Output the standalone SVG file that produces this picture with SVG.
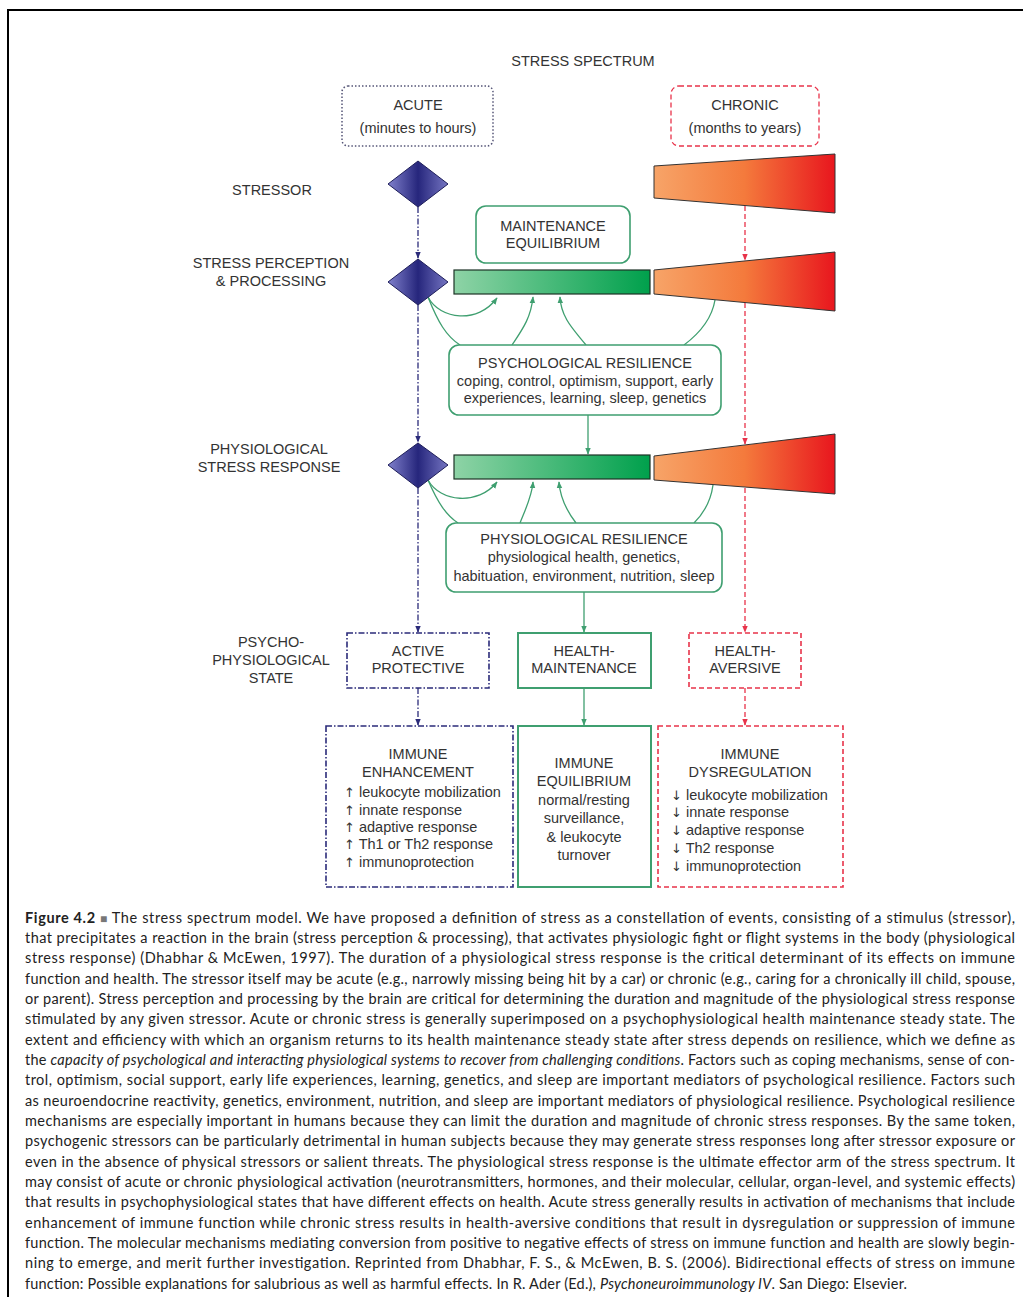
<svg xmlns="http://www.w3.org/2000/svg" width="1023" height="1297" viewBox="0 0 1023 1297">
<defs>
<linearGradient id="gBar" x1="0" y1="0" x2="1" y2="0"><stop offset="0" stop-color="#8ed3a6"/><stop offset="1" stop-color="#00a04c"/></linearGradient>
<linearGradient id="gTrap" x1="0" y1="0" x2="1" y2="0"><stop offset="0" stop-color="#f7a468"/><stop offset="0.5" stop-color="#f47a3c"/><stop offset="1" stop-color="#e8161e"/></linearGradient>
<linearGradient id="gDia" x1="0" y1="0" x2="1" y2="0"><stop offset="0" stop-color="#8080cc"/><stop offset="0.5" stop-color="#26267c"/><stop offset="1" stop-color="#7575c2"/></linearGradient>
<marker id="aN" viewBox="0 0 10 10" refX="9" refY="5" markerWidth="7" markerHeight="7" markerUnits="userSpaceOnUse" orient="auto"><path d="M0,1 L10,5 L0,9 Z" fill="#2b2b7a"/></marker>
<marker id="aR" viewBox="0 0 10 10" refX="9" refY="5" markerWidth="7" markerHeight="7" markerUnits="userSpaceOnUse" orient="auto"><path d="M0,1 L10,5 L0,9 Z" fill="#e8334a"/></marker>
<marker id="aG" viewBox="0 0 10 10" refX="9" refY="5" markerWidth="7" markerHeight="7" markerUnits="userSpaceOnUse" orient="auto"><path d="M0,1 L10,5 L0,9 Z" fill="#3f9f70"/></marker>
</defs>
<style>
.t{font-family:"Liberation Sans",Arial,sans-serif;font-size:14.5px;fill:#333;text-anchor:middle}
.l{text-anchor:start}
.ar{font-family:"DejaVu Sans",sans-serif;font-size:13px}
.cap{font-family:Lato,"Open Sans","Liberation Sans",sans-serif;font-size:14.5px;fill:#222}
.navy{fill:none;stroke:#2b2b7a;stroke-width:1.3;stroke-dasharray:6 2 1.5 2}
.red{fill:none;stroke:#e8334a;stroke-width:1.3;stroke-dasharray:5 3}
.grn{fill:none;stroke:#3f9f70;stroke-width:1.3}
.gbox{fill:#fff;stroke:#3f9f70;stroke-width:1.6}
.bar{fill:url(#gBar);stroke:#1d3326;stroke-width:1.2}
.trap{fill:url(#gTrap);stroke:#333;stroke-width:1}
.dia{fill:url(#gDia);stroke:#1e1e5a;stroke-width:1}
</style>
<rect width="1023" height="1297" fill="#fff"/>
<path d="M8,1297 V10 H1023" fill="none" stroke="#000" stroke-width="2"/>

<g id="connectors">
<path class="navy" d="M418,207 V258" marker-end="url(#aN)"/>
<path class="navy" d="M418,305 V442" marker-end="url(#aN)"/>
<path class="navy" d="M418,488 V632" marker-end="url(#aN)"/>
<path class="navy" d="M418,688 V725" marker-end="url(#aN)"/>
<path class="red" d="M745,206 V260" marker-end="url(#aR)"/>
<path class="red" d="M745,303 V444" marker-end="url(#aR)"/>
<path class="red" d="M745,488 V632" marker-end="url(#aR)"/>
<path class="red" d="M745,688 V725" marker-end="url(#aR)"/>
<path class="grn" d="M588,415 V454" marker-end="url(#aG)"/>
<path class="grn" d="M584,592 V632" marker-end="url(#aG)"/>
<path class="grn" d="M584,688 V725" marker-end="url(#aG)"/>
<path class="grn" d="M428,297 C438,322 446,336 460,345"/>
<path class="grn" d="M428,297 C440,320 478,324 497,298" marker-end="url(#aG)"/>
<path class="grn" d="M512,345 C522,330 531,318 533,297" marker-end="url(#aG)"/>
<path class="grn" d="M586,345 C574,330 561,318 560,297" marker-end="url(#aG)"/>
<path class="grn" d="M684,345 C700,333 712,318 715,300"/>
<path class="grn" d="M428,480 C438,503 446,515 458,523"/>
<path class="grn" d="M428,480 C440,502 478,506 497,482" marker-end="url(#aG)"/>
<path class="grn" d="M520,523 C526,508 532,496 533,482" marker-end="url(#aG)"/>
<path class="grn" d="M576,523 C566,510 560,496 559,482" marker-end="url(#aG)"/>
<path class="grn" d="M694,523 C704,513 711,500 713,485"/>
</g>

<text class="t" x="583" y="66">STRESS SPECTRUM</text>

<g id="acute">
<rect x="342" y="86" width="151" height="60" rx="6" fill="#fff" stroke="#555577" stroke-width="1.5" stroke-dasharray="1.5 2"/>
<text class="t" x="418" y="110">ACUTE</text>
<text class="t" x="418" y="133">(minutes to hours)</text>
</g>
<g id="chronic">
<rect x="671" y="86" width="148" height="60" rx="8" fill="#fff" stroke="#e8334a" stroke-width="1.3" stroke-dasharray="5 3"/>
<text class="t" x="745" y="110">CHRONIC</text>
<text class="t" x="745" y="133">(months to years)</text>
</g>

<g id="label-stressor"><text class="t" x="272" y="195">STRESSOR</text></g>
<g id="label-perception"><text class="t" x="271" y="268">STRESS PERCEPTION</text><text class="t" x="271" y="286">&amp; PROCESSING</text></g>
<g id="label-response"><text class="t" x="269" y="454">PHYSIOLOGICAL</text><text class="t" x="269" y="472">STRESS RESPONSE</text></g>
<g id="label-state"><text class="t" x="271" y="647">PSYCHO-</text><text class="t" x="271" y="665">PHYSIOLOGICAL</text><text class="t" x="271" y="683">STATE</text></g>

<g id="diamond-stressor"><polygon class="dia" points="388,184 418,161 448,184 418,207"/></g>
<g id="diamond-perception"><polygon class="dia" points="388,282 418,259 448,282 418,305"/></g>
<g id="diamond-response"><polygon class="dia" points="388,465 418,443 448,465 418,488"/></g>

<g id="trap-stressor"><path class="trap" d="M654,166 L835,154 L835,213 L654,198 Z"/></g>
<g id="trap-perception"><path class="trap" d="M654,270 L835,252 L835,311 L654,294 Z"/></g>
<g id="trap-response"><path class="trap" d="M654,456 L835,434 L835,494 L654,480 Z"/></g>

<g id="bar-perception"><rect class="bar" x="454" y="270" width="196" height="24"/></g>
<g id="bar-response"><rect class="bar" x="454" y="455" width="196" height="24"/></g>

<g id="maintenance-equilibrium">
<rect class="gbox" x="476" y="206" width="154" height="57" rx="10"/>
<text class="t" x="553" y="231">MAINTENANCE</text>
<text class="t" x="553" y="248">EQUILIBRIUM</text>
</g>

<g id="psych-resilience">
<rect class="gbox" x="449" y="345" width="272" height="70" rx="10"/>
<text class="t" x="585" y="368">PSYCHOLOGICAL RESILIENCE</text>
<text class="t" x="585" y="386">coping, control, optimism, support, early</text>
<text class="t" x="585" y="403">experiences, learning, sleep, genetics</text>
</g>

<g id="physio-resilience">
<rect class="gbox" x="446" y="523" width="276" height="69" rx="10"/>
<text class="t" x="584" y="544">PHYSIOLOGICAL RESILIENCE</text>
<text class="t" x="584" y="562">physiological health, genetics,</text>
<text class="t" x="584" y="581">habituation, environment, nutrition, sleep</text>
</g>

<g id="active-protective">
<rect x="347" y="633" width="142" height="55" fill="#fff" class="navy" style="stroke-width:1.6"/>
<text class="t" x="418" y="656">ACTIVE</text>
<text class="t" x="418" y="673">PROTECTIVE</text>
</g>
<g id="health-maintenance">
<rect x="518" y="633" width="133" height="55" fill="#fff" stroke="#3f9f70" stroke-width="2"/>
<text class="t" x="584" y="656">HEALTH-</text>
<text class="t" x="584" y="673">MAINTENANCE</text>
</g>
<g id="health-aversive">
<rect x="689" y="633" width="112" height="55" class="red" style="stroke-width:1.6"/>
<text class="t" x="745" y="656">HEALTH-</text>
<text class="t" x="745" y="673">AVERSIVE</text>
</g>

<g id="immune-enhancement">
<rect x="326" y="726" width="187" height="161" class="navy" style="stroke-width:1.6"/>
<text class="t" x="418" y="759">IMMUNE</text>
<text class="t" x="418" y="777">ENHANCEMENT</text>
<text class="t l" x="344" y="797"><tspan class="ar">↑</tspan> leukocyte mobilization</text>
<text class="t l" x="344" y="815"><tspan class="ar">↑</tspan> innate response</text>
<text class="t l" x="344" y="832"><tspan class="ar">↑</tspan> adaptive response</text>
<text class="t l" x="344" y="849"><tspan class="ar">↑</tspan> Th1 or Th2 response</text>
<text class="t l" x="344" y="867"><tspan class="ar">↑</tspan> immunoprotection</text>
</g>
<g id="immune-equilibrium">
<rect x="518" y="726" width="133" height="161" fill="#fff" stroke="#3f9f70" stroke-width="2"/>
<text class="t" x="584" y="768">IMMUNE</text>
<text class="t" x="584" y="786">EQUILIBRIUM</text>
<text class="t" x="584" y="805">normal/resting</text>
<text class="t" x="584" y="823">surveillance,</text>
<text class="t" x="584" y="842">&amp; leukocyte</text>
<text class="t" x="584" y="860">turnover</text>
</g>
<g id="immune-dysregulation">
<rect x="658" y="726" width="185" height="161" class="red" style="stroke-width:1.6"/>
<text class="t" x="750" y="759">IMMUNE</text>
<text class="t" x="750" y="777">DYSREGULATION</text>
<text class="t l" x="671" y="800"><tspan class="ar">↓</tspan> leukocyte mobilization</text>
<text class="t l" x="671" y="817"><tspan class="ar">↓</tspan> innate response</text>
<text class="t l" x="671" y="835"><tspan class="ar">↓</tspan> adaptive response</text>
<text class="t l" x="671" y="853"><tspan class="ar">↓</tspan> Th2 response</text>
<text class="t l" x="671" y="871"><tspan class="ar">↓</tspan> immunoprotection</text>
</g>

<g id="caption" class="cap">
<text x="25" y="923" textLength="990" lengthAdjust="spacing"><tspan font-weight="bold">Figure 4.2</tspan> <tspan fill="#777" font-size="12">■</tspan> The stress spectrum model. We have proposed a definition of stress as a constellation of events, consisting of a stimulus (stressor),</text>
<text x="25" y="943" textLength="990" lengthAdjust="spacing">that precipitates a reaction in the brain (stress perception &amp; processing), that activates physiologic fight or flight systems in the body (physiological</text>
<text x="25" y="963" textLength="990" lengthAdjust="spacing">stress response) (Dhabhar &amp; McEwen, 1997). The duration of a physiological stress response is the critical determinant of its effects on immune</text>
<text x="25" y="984" textLength="990" lengthAdjust="spacing">function and health. The stressor itself may be acute (e.g., narrowly missing being hit by a car) or chronic (e.g., caring for a chronically ill child, spouse,</text>
<text x="25" y="1004" textLength="990" lengthAdjust="spacing">or parent). Stress perception and processing by the brain are critical for determining the duration and magnitude of the physiological stress response</text>
<text x="25" y="1024" textLength="990" lengthAdjust="spacing">stimulated by any given stressor. Acute or chronic stress is generally superimposed on a psychophysiological health maintenance steady state. The</text>
<text x="25" y="1045" textLength="990" lengthAdjust="spacing">extent and efficiency with which an organism returns to its health maintenance steady state after stress depends on resilience, which we define as</text>
<text x="25" y="1065" textLength="990" lengthAdjust="spacing">the <tspan font-style="italic">capacity of psychological and interacting physiological systems to recover from challenging conditions</tspan>. Factors such as coping mechanisms, sense of con-</text>
<text x="25" y="1085" textLength="990" lengthAdjust="spacing">trol, optimism, social support, early life experiences, learning, genetics, and sleep are important mediators of psychological resilience. Factors such</text>
<text x="25" y="1106" textLength="990" lengthAdjust="spacing">as neuroendocrine reactivity, genetics, environment, nutrition, and sleep are important mediators of physiological resilience. Psychological resilience</text>
<text x="25" y="1126" textLength="990" lengthAdjust="spacing">mechanisms are especially important in humans because they can limit the duration and magnitude of chronic stress responses. By the same token,</text>
<text x="25" y="1146" textLength="990" lengthAdjust="spacing">psychogenic stressors can be particularly detrimental in human subjects because they may generate stress responses long after stressor exposure or</text>
<text x="25" y="1167" textLength="990" lengthAdjust="spacing">even in the absence of physical stressors or salient threats. The physiological stress response is the ultimate effector arm of the stress spectrum. It</text>
<text x="25" y="1187" textLength="990" lengthAdjust="spacing">may consist of acute or chronic physiological activation (neurotransmitters, hormones, and their molecular, cellular, organ-level, and systemic effects)</text>
<text x="25" y="1207" textLength="990" lengthAdjust="spacing">that results in psychophysiological states that have different effects on health. Acute stress generally results in activation of mechanisms that include</text>
<text x="25" y="1228" textLength="990" lengthAdjust="spacing">enhancement of immune function while chronic stress results in health-aversive conditions that result in dysregulation or suppression of immune</text>
<text x="25" y="1248" textLength="990" lengthAdjust="spacing">function. The molecular mechanisms mediating conversion from positive to negative effects of stress on immune function and health are slowly begin-</text>
<text x="25" y="1268" textLength="990" lengthAdjust="spacing">ning to emerge, and merit further investigation. Reprinted from Dhabhar, F. S., &amp; McEwen, B. S. (2006). Bidirectional effects of stress on immune</text>
<text x="25" y="1289" textLength="882" lengthAdjust="spacing">function: Possible explanations for salubrious as well as harmful effects. In R. Ader (Ed.), <tspan font-style="italic">Psychoneuroimmunology IV</tspan>. San Diego: Elsevier.</text>
</g>
</svg>
